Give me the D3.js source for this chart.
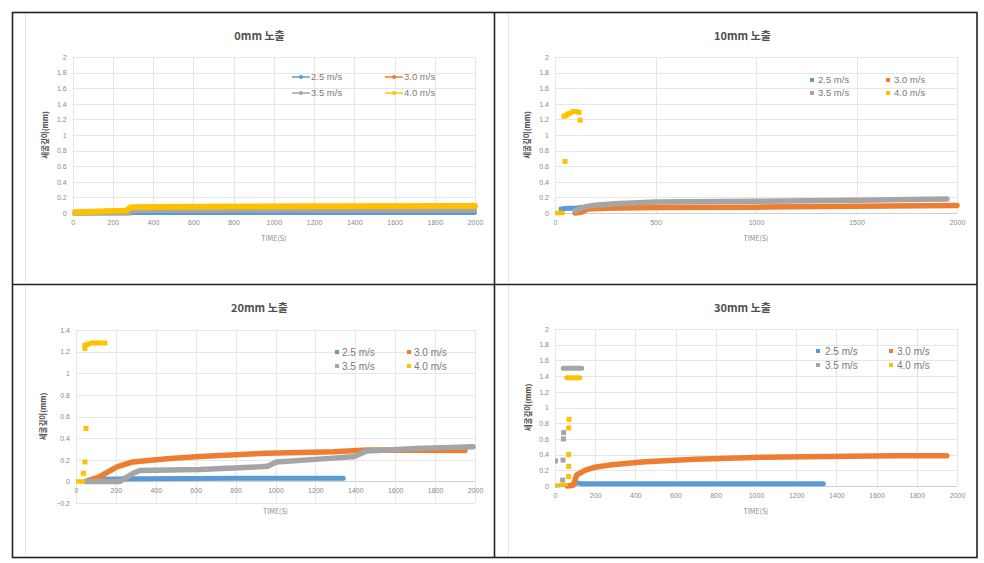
<!DOCTYPE html>
<html><head><meta charset="utf-8">
<script src="https://cdn.jsdelivr.net/npm/d3@7"></script>
<style>body{margin:0;background:#fff}svg{display:block}text{font-family:"Noto Sans CJK KR","Noto Sans",sans-serif}</style>
</head><body><svg id="c" width="984" height="563"></svg>
<script>
// ---------- data ----------
const seriesNames = ["2.5 m/s", "3.0 m/s", "3.5 m/s", "4.0 m/s"];
const seriesColors = ["#5B9BD5", "#ED7D31", "#A5A5A5", "#FFC000"];
const panelTitles = ["0mm 노출", "10mm 노출", "20mm 노출", "30mm 노출"];
const xTitle = "TIME(S)";
const yTitle = "세굴깊이(mm)";
const yTicksA = [0, 0.2, 0.4, 0.6, 0.8, 1, 1.2, 1.4, 1.6, 1.8, 2];
const yTicksB = [-0.2, 0, 0.2, 0.4, 0.6, 0.8, 1, 1.2, 1.4];
const xTicks200 = [0, 200, 400, 600, 800, 1000, 1200, 1400, 1600, 1800, 2000];
const xTicks500 = [0, 500, 1000, 1500, 2000];

// 0mm (dense series, [time, depth])
const band0_25 = [[0,-0.005],[280,-0.005],[300,0.0],[1000,0.0],[2000,0.0]];
const band0_30 = [[0,0.01],[270,0.03],[290,0.055],[1000,0.06],[2000,0.065]];
const band0_35 = [[0,-0.01],[280,0.0],[300,0.025],[1000,0.03],[2000,0.03]];
const band0_40 = [[0,0.01],[100,0.015],[200,0.025],[265,0.03],[290,0.075],[600,0.08],[1200,0.085],[2000,0.09]];
// 10mm
const band10_25 = [[30,0.05],[60,0.06],[100,0.06],[130,0.07]];
const band10_30 = [[100,0.0],[130,0.01],[160,0.05],[250,0.06],[500,0.07],[1000,0.075],[1500,0.085],[2000,0.095]];
const band10_35 = [[100,0.03],[150,0.08],[200,0.1],[300,0.12],[500,0.14],[1000,0.15],[1500,0.165],[1950,0.18]];
const band10_40 = [[0,0],[40,0]];
const pts10_40 = [[50,0.66],[45,1.24],[55,1.25],[65,1.27],[75,1.28],[90,1.30],[105,1.30],[120,1.29],[125,1.19]];
// 20mm
const band20_25 = [[50,0],[120,0.02],[300,0.025],[800,0.03],[1340,0.03]];
const band20_30 = [[50,0],[120,0.045],[205,0.135],[285,0.18],[455,0.21],[620,0.23],[955,0.26],[1290,0.275],[1460,0.29],[1950,0.285]];
const band20_35 = [[50,0],[220,0.0],[287,0.075],[320,0.1],[620,0.11],[920,0.135],[960,0.14],[1005,0.18],[1290,0.215],[1395,0.23],[1457,0.28],[1710,0.305],[1990,0.32]];
const band20_40 = [[0,0],[35,0]];
const pts20_40 = [[37,0.075],[45,0.18],[50,0.49],[45,1.23],[45,1.26],[60,1.27],[80,1.28],[100,1.28],[120,1.28],[145,1.28]];
// 30mm
const band30_25 = [[90,0.02],[110,0.04],[130,0.03],[400,0.03],[900,0.03],[1335,0.03]];
const band30_30 = [[60,0],[91,0.01],[108,0.14],[149,0.2],[199,0.24],[282,0.27],[448,0.31],[697,0.34],[1028,0.365],[1360,0.375],[1692,0.385],[1949,0.385]];
const band30_35 = [[0,0],[40,0.01]];
const bar30_35 = [[41,1.5],[133,1.5]];
const pts30_35 = [[2,0.32],[40,0.33],[42,0.6],[43,0.68],[38,0.075]];
const band30_40 = [[0,0.01],[58,0.02]];
const bar30_40 = [[58,1.38],[124,1.38]];
const pts30_40 = [[70,0.85],[68,0.74],[68,0.40],[68,0.25],[67,0.12]];

// ---------- layout ----------
const svg = d3.select("#c");
const panels = [
  {title: panelTitles[0], box:[25,12,494,284], plot:[72.7,475,57,213], yd:[0,2], yt:yTicksA, xt:xTicks200, lines:true,
   bands:[band0_25,band0_30,band0_35,band0_40], bw:[4,4,4,6], pts:[[],[],[],[]], bars:[[],[],[],[]],
   leg:{x:[292,385], y:[77,93], tx:[311,404]}, xtl:238, ylx:45},
  {title: panelTitles[1], box:[508,12,977,284], plot:[555,957,57,213], yd:[0,2], yt:yTicksA, xt:xTicks500, lines:false,
   bands:[band10_25,band10_30,band10_35,band10_40], bw:[5,5.5,5.5,4.5], pts:[[],[],[],pts10_40], bars:[[],[],[],[]],
   leg:{x:[812,888], y:[80,93], tx:[818,894]}, xtl:238, ylx:527},
  {title: panelTitles[2], box:[25,284,494,557], plot:[76,475,330,503], yd:[-0.2,1.4], yt:yTicksB, xt:xTicks200, lines:false,
   bands:[band20_25,band20_30,band20_35,band20_40], bw:[5,5.5,5.5,4.5], pts:[[],[],[],pts20_40], bars:[[],[],[],[]],
   leg:{x:[337,409], y:[352,366], tx:[342,414]}, xtl:511, ylx:43},
  {title: panelTitles[3], box:[508,284,977,557], plot:[555,957,329,486], yd:[0,2], yt:yTicksA, xt:xTicks200, lines:false,
   bands:[band30_25,band30_30,band30_35,band30_40], bw:[5,5.5,3.5,3.5], pts:[[],[],pts30_35,pts30_40], bars:[[],[],bar30_35,bar30_40],
   leg:{x:[818,891], y:[351,365], tx:[825,897]}, xtl:511, ylx:528}
];

// frames
svg.append("rect").attr("x",12.5).attr("y",12.5).attr("width",964.5).attr("height",545)
  .attr("fill","none").attr("stroke","#222").attr("stroke-width",1.6);
svg.append("line").attr("x1",494.5).attr("x2",494.5).attr("y1",12).attr("y2",558).attr("stroke","#222").attr("stroke-width",1.6);
svg.append("line").attr("x1",12).attr("x2",977).attr("y1",284.5).attr("y2",284.5).attr("stroke","#222").attr("stroke-width",1.6);

panels.forEach((p, pi) => {
  const g = svg.append("g");
  // chart-area border
  g.append("line").attr("x1",p.box[0]+0.5).attr("x2",p.box[0]+0.5).attr("y1",p.box[1]+2).attr("y2",p.box[3]-2)
    .attr("stroke","#e3e3e3").attr("stroke-width",1);
  const x = d3.scaleLinear().domain([0,2000]).range([p.plot[0], p.plot[1]]);
  const y = d3.scaleLinear().domain(p.yd).range([p.plot[3], p.plot[2]]);
  // gridlines
  g.append("g").selectAll("line").data(p.yt).join("line")
    .attr("x1",p.plot[0]).attr("x2",p.plot[1]).attr("y1",d=>Math.round(y(d))+0.5).attr("y2",d=>Math.round(y(d))+0.5)
    .attr("stroke",d=>d===0?"#cfcfcf":"#e6e6e6").attr("stroke-width",1);
  g.append("g").selectAll("line").data(p.xt).join("line")
    .attr("x1",d=>Math.round(x(d))+0.5).attr("x2",d=>Math.round(x(d))+0.5).attr("y1",p.plot[2]).attr("y2",p.plot[3])
    .attr("stroke","#e6e6e6").attr("stroke-width",1);
  // y tick labels
  const yAxis = d3.axisLeft(y).tickValues(p.yt).tickSize(0).tickPadding(6).tickFormat(d => d3.format("~g")(d));
  const ya = g.append("g").attr("transform",`translate(${p.plot[0]},0)`).call(yAxis);
  ya.select(".domain").remove();
  ya.selectAll("text").attr("fill","#8a8a8a").style("font-size","7px").style("font-family","Liberation Sans, Arial, sans-serif");
  // x tick labels (axis at y=0)
  const xAxis = d3.axisBottom(x).tickValues(p.xt).tickSize(0).tickPadding(7).tickFormat(d3.format("d"));
  const xa = g.append("g").attr("transform",`translate(0,${y(0)})`).call(xAxis);
  xa.select(".domain").remove();
  xa.selectAll("text").attr("fill","#8a8a8a").style("font-size","7px").style("font-family","Liberation Sans, Arial, sans-serif");
  // titles
  g.append("text").attr("x",(p.box[0]+p.box[2])/2).attr("y",p.box[1]+28).attr("text-anchor","middle")
    .attr("fill","#505050").style("font-size","11px").style("font-weight","bold").text(p.title);
  g.append("text").attr("x",(p.plot[0]+p.plot[1])/2).attr("y",p.xtl+3).attr("text-anchor","middle")
    .attr("fill","#8a8a8a").style("font-size","7px").text(xTitle);
  g.append("text").attr("transform",`translate(${p.ylx},${(p.plot[2]+p.plot[3])/2}) rotate(-90)`)
    .attr("text-anchor","middle").attr("dy","0.35em").attr("fill","#505050")
    .style("font-size","7.5px").style("font-weight","bold").text(yTitle);
  // series (order: 2.5, 3.0, 3.5, 4.0 drawn in that order)
  const line = d3.line().x(d=>x(d[0])).y(d=>y(d[1]));
  const clipId = "clip"+pi;
  g.append("clipPath").attr("id",clipId).append("rect")
    .attr("x",p.plot[0]).attr("y",p.plot[2]-6).attr("width",p.plot[1]-p.plot[0]+4).attr("height",p.plot[3]-p.plot[2]+12);
  const sg = g.append("g").attr("clip-path",`url(#${clipId})`);
  [0,1,2,3].forEach(si => {
    const col = seriesColors[si];
    if (p.bands[si].length) sg.append("path").datum(p.bands[si]).attr("d",line).attr("fill","none")
      .attr("stroke",col).attr("stroke-width",p.bw[si]).attr("stroke-linejoin","round").attr("stroke-linecap","round");
    if (p.bars[si].length) sg.append("path").datum(p.bars[si]).attr("d",line).attr("fill","none")
      .attr("stroke",col).attr("stroke-width",5).attr("stroke-linecap","round");
    sg.selectAll(null).data(p.pts[si]).join("rect")
      .attr("x",d=>x(d[0])-2.5).attr("y",d=>y(d[1])-2.5).attr("width",5).attr("height",5)
      .attr("fill",col);
  });
  // legend
  seriesNames.forEach((nm, si) => {
    const col = si % 2, row = Math.floor(si/2);
    const lx = p.leg.x[col], ly = p.leg.y[row];
    if (p.lines) {
      g.append("line").attr("x1",lx).attr("x2",lx+18).attr("y1",ly).attr("y2",ly)
        .attr("stroke",seriesColors[si]).attr("stroke-width",1.5);
      g.append("circle").attr("cx",lx+9).attr("cy",ly).attr("r",2).attr("fill",seriesColors[si]);
    } else {
      g.append("rect").attr("x",lx-2).attr("y",ly-2).attr("width",4).attr("height",4).attr("fill",seriesColors[si]);
    }
    g.append("text").attr("x",p.leg.tx[col]).attr("y",ly).attr("dy","0.35em")
      .attr("fill","#7a7a7a").style("font-size", pi>=2 ? "10px" : "9.5px")
      .style("font-family","Liberation Sans, Arial, sans-serif").text(nm);
  });
});
</script></body></html>
